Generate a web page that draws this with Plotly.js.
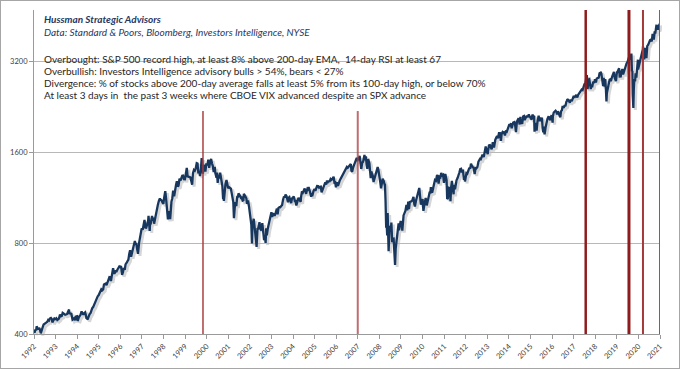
<!DOCTYPE html>
<html>
<head>
<meta charset="utf-8">
<script src="https://cdn.plot.ly/plotly-3.0.1.min.js"></script>
<style>
html,body{margin:0;padding:0;background:#fff;}
#chart{width:680px;height:369px;box-sizing:border-box;border:1px solid #a6a6a6;}
</style>
</head>
<body>
<div id="chart"></div>
<script>
// S&P 500 (weekly-ish closes and notable extremes), read/estimated from the chart
const spxDates = [
'1992-06-19','1992-06-26','1992-07-10','1992-07-24','1992-07-31','1992-08-14','1992-08-28','1992-09-11','1992-09-25','1992-10-09','1992-10-23','1992-10-30','1992-11-13','1992-11-27','1992-12-11','1992-12-31',
'1993-01-15','1993-01-29','1993-02-12','1993-02-26','1993-03-12','1993-03-31','1993-04-16','1993-04-23','1993-04-30','1993-05-14','1993-05-28','1993-06-11','1993-06-30','1993-07-16','1993-07-30','1993-08-13','1993-08-31','1993-09-17','1993-09-30','1993-10-15','1993-10-29','1993-11-12','1993-11-26','1993-12-10','1993-12-31',
'1994-01-14','1994-01-31','1994-02-04','1994-02-18','1994-02-28','1994-03-11','1994-03-31','1994-04-08','1994-04-22','1994-04-29','1994-05-13','1994-05-31','1994-06-17','1994-06-24','1994-06-30','1994-07-15','1994-07-29','1994-08-12','1994-08-31','1994-09-16','1994-09-30','1994-10-14','1994-10-31','1994-11-11','1994-11-23','1994-11-30','1994-12-09','1994-12-30',
'1995-01-13','1995-01-31','1995-02-15','1995-02-28','1995-03-15','1995-03-31','1995-04-13','1995-04-28','1995-05-15','1995-05-31','1995-06-15','1995-06-30','1995-07-14','1995-07-31','1995-08-15','1995-08-31','1995-09-14','1995-09-29','1995-10-13','1995-10-27','1995-11-15','1995-11-30','1995-12-15','1995-12-29',
'1996-01-10','1996-01-31','1996-02-15','1996-02-29','1996-03-08','1996-03-29','1996-04-15','1996-04-30','1996-05-15','1996-05-31','1996-06-14','1996-06-28','1996-07-05','1996-07-16','1996-07-31','1996-08-15','1996-08-30','1996-09-13','1996-09-30','1996-10-15','1996-10-31','1996-11-15','1996-11-29','1996-12-05','1996-12-16','1996-12-31',
'1997-01-17','1997-01-31','1997-02-18','1997-02-28','1997-03-11','1997-03-31','1997-04-11','1997-04-30','1997-05-15','1997-05-30','1997-06-13','1997-06-30','1997-07-15','1997-07-31','1997-08-15','1997-08-29','1997-09-15','1997-09-30','1997-10-07','1997-10-27','1997-10-31','1997-11-14','1997-11-28','1997-12-05','1997-12-19','1997-12-31',
'1998-01-09','1998-01-30','1998-02-13','1998-02-27','1998-03-13','1998-03-31','1998-04-17','1998-04-30','1998-05-15','1998-05-29','1998-06-15','1998-06-30','1998-07-17','1998-07-31','1998-08-14','1998-08-31','1998-09-11','1998-09-30','1998-10-08','1998-10-23','1998-10-30','1998-11-13','1998-11-27','1998-12-14','1998-12-31',
'1999-01-15','1999-01-29','1999-02-12','1999-02-26','1999-03-15','1999-03-31','1999-04-16','1999-04-30','1999-05-14','1999-05-28','1999-06-15','1999-06-30','1999-07-16','1999-07-30','1999-08-13','1999-08-31','1999-09-15','1999-09-30','1999-10-15','1999-10-29','1999-11-15','1999-11-30','1999-12-15','1999-12-31',
'2000-01-14','2000-01-28','2000-02-11','2000-02-25','2000-03-10','2000-03-24','2000-03-31','2000-04-14','2000-04-28','2000-05-12','2000-05-26','2000-06-09','2000-06-30','2000-07-14','2000-07-28','2000-08-11','2000-08-31','2000-09-15','2000-09-29','2000-10-13','2000-10-31','2000-11-10','2000-11-30','2000-12-08','2000-12-20','2000-12-29',
'2001-01-12','2001-01-31','2001-02-16','2001-02-28','2001-03-09','2001-03-22','2001-03-30','2001-04-04','2001-04-20','2001-04-30','2001-05-18','2001-05-31','2001-06-15','2001-06-29','2001-07-13','2001-07-31','2001-08-17','2001-08-31','2001-09-10','2001-09-21','2001-09-28','2001-10-12','2001-10-31','2001-11-16','2001-11-30','2001-12-07','2001-12-31',
'2002-01-18','2002-01-31','2002-02-15','2002-02-28','2002-03-08','2002-03-28','2002-04-19','2002-04-30','2002-05-17','2002-05-31','2002-06-14','2002-06-28','2002-07-12','2002-07-23','2002-07-31','2002-08-22','2002-08-30','2002-09-13','2002-09-30','2002-10-09','2002-10-25','2002-10-31','2002-11-15','2002-11-27','2002-12-13','2002-12-31',
'2003-01-14','2003-01-31','2003-02-13','2003-02-28','2003-03-11','2003-03-21','2003-03-31','2003-04-17','2003-04-30','2003-05-16','2003-05-30','2003-06-17','2003-06-30','2003-07-14','2003-07-31','2003-08-15','2003-08-29','2003-09-18','2003-09-30','2003-10-15','2003-10-31','2003-11-14','2003-11-28','2003-12-15','2003-12-31',
'2004-01-16','2004-01-30','2004-02-11','2004-02-27','2004-03-12','2004-03-24','2004-03-31','2004-04-16','2004-04-30','2004-05-17','2004-05-28','2004-06-18','2004-06-30','2004-07-16','2004-07-30','2004-08-12','2004-08-31','2004-09-17','2004-09-30','2004-10-25','2004-10-29','2004-11-15','2004-11-30','2004-12-15','2004-12-31',
'2005-01-14','2005-01-24','2005-01-31','2005-02-15','2005-02-28','2005-03-07','2005-03-31','2005-04-20','2005-04-29','2005-05-13','2005-05-31','2005-06-15','2005-06-30','2005-07-15','2005-07-29','2005-08-15','2005-08-31','2005-09-15','2005-09-30','2005-10-13','2005-10-31','2005-11-15','2005-11-30','2005-12-15','2005-12-30',
'2006-01-13','2006-01-20','2006-01-31','2006-02-15','2006-02-28','2006-03-15','2006-03-31','2006-04-21','2006-05-05','2006-05-19','2006-05-31','2006-06-13','2006-06-30','2006-07-17','2006-07-31','2006-08-15','2006-08-31','2006-09-15','2006-09-29','2006-10-13','2006-10-31','2006-11-15','2006-11-30','2006-12-15','2006-12-29',
'2007-01-12','2007-01-31','2007-02-20','2007-03-02','2007-03-14','2007-03-30','2007-04-13','2007-04-30','2007-05-15','2007-05-31','2007-06-07','2007-06-15','2007-06-29','2007-07-19','2007-07-31','2007-08-15','2007-08-31','2007-09-14','2007-09-28','2007-10-09','2007-10-19','2007-10-31','2007-11-15','2007-11-26','2007-11-30','2007-12-10','2007-12-31',
'2008-01-11','2008-01-22','2008-01-31','2008-02-15','2008-02-29','2008-03-10','2008-03-31','2008-04-15','2008-04-30','2008-05-19','2008-05-30','2008-06-13','2008-06-30','2008-07-15','2008-07-31','2008-08-11','2008-08-29','2008-09-12','2008-09-19','2008-09-29','2008-10-10','2008-10-17','2008-10-27','2008-11-04','2008-11-20','2008-11-28','2008-12-08','2008-12-31',
'2009-01-06','2009-01-20','2009-01-30','2009-02-13','2009-02-27','2009-03-09','2009-03-20','2009-03-31','2009-04-17','2009-04-30','2009-05-08','2009-05-15','2009-05-29','2009-06-12','2009-06-30','2009-07-10','2009-07-31','2009-08-14','2009-08-31','2009-09-18','2009-09-30','2009-10-02','2009-10-19','2009-10-30','2009-11-13','2009-11-30','2009-12-18','2009-12-31',
'2010-01-15','2010-01-29','2010-02-08','2010-02-26','2010-03-15','2010-03-31','2010-04-23','2010-04-30','2010-05-07','2010-05-20','2010-05-28','2010-06-18','2010-06-30','2010-07-02','2010-07-16','2010-07-30','2010-08-09','2010-08-27','2010-09-10','2010-09-30','2010-10-15','2010-10-29','2010-11-05','2010-11-16','2010-11-30','2010-12-17','2010-12-31',
'2011-01-14','2011-01-31','2011-02-18','2011-02-28','2011-03-16','2011-03-31','2011-04-15','2011-04-29','2011-05-13','2011-05-31','2011-06-15','2011-06-30','2011-07-07','2011-07-29','2011-08-08','2011-08-19','2011-08-31','2011-09-16','2011-09-30','2011-10-03','2011-10-14','2011-10-27','2011-10-31','2011-11-25','2011-11-30','2011-12-19','2011-12-30',
'2012-01-13','2012-01-31','2012-02-17','2012-02-29','2012-03-16','2012-03-30','2012-04-13','2012-04-30','2012-05-18','2012-05-31','2012-06-04','2012-06-15','2012-06-29','2012-07-13','2012-07-31','2012-08-17','2012-08-31','2012-09-14','2012-09-28','2012-10-12','2012-10-31','2012-11-15','2012-11-30','2012-12-14','2012-12-31',
'2013-01-18','2013-01-31','2013-02-15','2013-02-28','2013-03-15','2013-03-28','2013-04-18','2013-04-30','2013-05-21','2013-05-31','2013-06-24','2013-06-28','2013-07-15','2013-07-31','2013-08-15','2013-08-30','2013-09-18','2013-09-30','2013-10-08','2013-10-31','2013-11-15','2013-11-29','2013-12-13','2013-12-31',
'2014-01-15','2014-02-03','2014-02-14','2014-02-28','2014-03-14','2014-03-31','2014-04-11','2014-04-30','2014-05-15','2014-05-30','2014-06-20','2014-06-30','2014-07-24','2014-07-31','2014-08-08','2014-08-29','2014-09-18','2014-09-30','2014-10-15','2014-10-31','2014-11-14','2014-11-28','2014-12-16','2014-12-29','2014-12-31',
'2015-01-15','2015-01-30','2015-02-13','2015-02-27','2015-03-11','2015-03-31','2015-04-15','2015-04-30','2015-05-21','2015-05-29','2015-06-15','2015-06-30','2015-07-08','2015-07-20','2015-07-31','2015-08-18','2015-08-25','2015-08-31','2015-09-16','2015-09-29','2015-10-15','2015-10-30','2015-11-03','2015-11-13','2015-11-30','2015-12-14','2015-12-29','2015-12-31',
'2016-01-08','2016-01-20','2016-01-29','2016-02-11','2016-02-29','2016-03-15','2016-03-31','2016-04-20','2016-04-29','2016-05-19','2016-05-31','2016-06-08','2016-06-27','2016-06-30','2016-07-15','2016-07-29','2016-08-15','2016-08-31','2016-09-09','2016-09-22','2016-09-30','2016-10-14','2016-11-04','2016-11-15','2016-11-30','2016-12-13','2016-12-30',
'2017-01-13','2017-01-31','2017-02-15','2017-02-28','2017-03-01','2017-03-15','2017-03-31','2017-04-13','2017-04-28','2017-05-17','2017-05-31','2017-06-19','2017-06-30','2017-07-14','2017-07-31','2017-08-11','2017-08-18','2017-08-31','2017-09-15','2017-09-29','2017-10-13','2017-10-31','2017-11-15','2017-11-30','2017-12-15','2017-12-29',
'2018-01-12','2018-01-26','2018-02-08','2018-02-16','2018-02-26','2018-03-09','2018-03-23','2018-04-02','2018-04-13','2018-04-30','2018-05-14','2018-05-31','2018-06-12','2018-06-29','2018-07-13','2018-07-31','2018-08-15','2018-08-29','2018-09-20','2018-09-28','2018-10-11','2018-10-29','2018-11-07','2018-11-23','2018-11-30','2018-12-03','2018-12-14','2018-12-24','2018-12-31',
'2019-01-15','2019-01-31','2019-02-15','2019-02-28','2019-03-08','2019-03-29','2019-04-15','2019-04-30','2019-05-13','2019-05-31','2019-06-03','2019-06-20','2019-06-28','2019-07-26','2019-07-31','2019-08-05','2019-08-23','2019-08-30','2019-09-19','2019-09-30','2019-10-02','2019-10-31','2019-11-15','2019-11-29','2019-12-13','2019-12-31',
'2020-01-17','2020-01-31','2020-02-19','2020-02-28','2020-03-06','2020-03-12','2020-03-16','2020-03-23','2020-03-31','2020-04-09','2020-04-21','2020-04-30','2020-05-13','2020-05-29','2020-06-08','2020-06-11','2020-06-30','2020-07-15','2020-07-31','2020-08-14','2020-08-31','2020-09-02','2020-09-23','2020-09-30','2020-10-12','2020-10-30','2020-11-13','2020-11-30','2020-12-15','2020-12-31',
'2021-01-15','2021-01-29','2021-02-12','2021-02-26','2021-03-04','2021-03-17','2021-03-31','2021-04-16','2021-04-30','2021-05-12','2021-05-28','2021-06-11','2021-06-17'
];
const spxValues = [
410,403,414,411,424,420,414,419,414,402,414,419,422,430,433,436,
437,439,445,443,450,452,448,437,440,440,450,448,451,445,448,450,464,458,459,470,468,465,463,464,466,
474,482,469,467,467,466,446,447,448,451,444,457,458,443,444,454,458,462,475,468,463,469,472,462,449,454,446,459,
465,470,485,487,491,501,510,515,525,533,537,545,560,562,558,562,583,584,587,580,590,605,617,616,
599,636,660,640,633,645,645,654,661,669,666,671,657,628,640,662,652,680,687,701,705,737,757,745,721,741,
776,786,812,791,801,757,737,801,841,848,894,885,927,954,900,899,924,947,983,877,915,928,955,983,947,970,
927,980,1021,1049,1069,1102,1123,1112,1108,1091,1077,1134,1187,1121,1062,957,1009,1017,959,1071,1098,1125,1192,1141,1229,
1244,1280,1230,1238,1307,1286,1319,1335,1337,1302,1301,1373,1418,1329,1327,1320,1318,1283,1247,1362,1397,1389,1413,1469,
1465,1360,1387,1333,1395,1527,1499,1356,1452,1421,1378,1456,1455,1509,1419,1471,1518,1465,1437,1374,1429,1365,1315,1369,1264,1320,
1318,1366,1302,1240,1234,1117,1160,1103,1242,1249,1292,1256,1214,1224,1215,1211,1161,1134,1093,966,1041,1092,1060,1138,1139,1167,1148,
1128,1130,1104,1107,1164,1147,1125,1077,1106,1067,1007,990,921,797,912,962,916,889,815,777,897,886,910,938,890,880,
931,856,817,841,800,895,848,893,917,945,964,1011,975,1004,990,990,1008,1039,996,1046,1051,1050,1058,1068,1112,
1139,1131,1157,1145,1120,1091,1126,1134,1107,1084,1121,1135,1141,1101,1102,1064,1104,1128,1115,1095,1130,1184,1174,1203,1212,
1185,1163,1181,1210,1204,1225,1181,1138,1157,1154,1192,1207,1191,1228,1234,1233,1220,1228,1229,1177,1207,1231,1249,1270,1248,
1287,1261,1280,1280,1281,1303,1295,1311,1325,1267,1270,1223,1270,1237,1277,1285,1304,1320,1336,1362,1378,1397,1401,1427,1418,
1430,1438,1460,1387,1377,1421,1452,1482,1501,1531,1490,1533,1503,1553,1455,1406,1474,1484,1527,1565,1501,1549,1451,1407,1481,1515,1468,
1401,1310,1379,1349,1331,1273,1323,1351,1386,1426,1400,1360,1280,1214,1267,1305,1283,1252,1255,1106,899,940,848,1006,752,896,909,903,
935,805,826,827,735,677,768,798,870,873,929,882,919,946,919,879,987,1005,1021,1068,1057,1025,1097,1036,1093,1096,1102,1115,
1136,1074,1056,1104,1150,1169,1217,1187,1111,1071,1089,1117,1031,1022,1065,1102,1128,1065,1110,1141,1176,1183,1225,1178,1181,1244,1258,
1293,1286,1343,1327,1257,1326,1320,1364,1338,1345,1265,1321,1353,1292,1119,1124,1219,1216,1131,1099,1225,1285,1253,1159,1247,1205,1258,
1289,1312,1361,1366,1404,1408,1370,1398,1295,1310,1278,1342,1362,1356,1379,1418,1407,1465,1441,1428,1412,1353,1416,1413,1426,
1486,1498,1520,1515,1561,1569,1541,1598,1669,1631,1573,1606,1682,1686,1661,1633,1725,1682,1656,1757,1798,1806,1775,1848,
1848,1742,1838,1859,1841,1872,1815,1884,1871,1924,1963,1960,1988,1931,1931,2003,2011,1972,1862,2018,2040,2068,1973,2091,2059,
1993,1995,2097,2105,2040,2068,2107,2086,2131,2107,2085,2063,2047,2128,2104,2097,1868,1972,1996,1884,2023,2079,2109,2023,2080,2022,2078,2044,
1922,1859,1940,1829,1932,2015,2060,2102,2065,2040,2097,2119,2001,2099,2162,2174,2191,2171,2128,2177,2168,2133,2085,2180,2199,2271,2239,
2275,2279,2349,2364,2396,2385,2363,2329,2384,2357,2412,2453,2423,2459,2470,2441,2426,2472,2500,2519,2553,2575,2565,2648,2676,2674,
2786,2873,2581,2732,2780,2786,2588,2582,2656,2648,2730,2705,2787,2718,2801,2816,2818,2914,2931,2914,2728,2641,2814,2633,2760,2790,2600,2351,2507,
2610,2704,2776,2784,2743,2834,2905,2946,2812,2752,2744,2954,2942,3026,2980,2845,2847,2926,3006,2977,2888,3038,3120,3141,3169,3231,
3330,3226,3386,2954,2972,2481,2386,2237,2585,2790,2737,2912,2820,3044,3232,3002,3100,3227,3271,3373,3500,3580,3237,3363,3535,3270,3585,3622,3695,3756,
3768,3714,3934,3811,3768,3975,3973,4185,4181,4063,4204,4247,4222
];

// Signal dates (vertical red lines) and how high each line reaches
const signalDates = ['2000-04-15','2007-06-17','2018-01-07','2020-01-09','2020-09-02','2021-06-14'];
const signalTops  = [2186, 2186, 4719, 4719, 4719, 4719];
const signalColors = ['rgba(170,60,60,0.75)','rgba(170,60,60,0.75)','#8e1c1c','#8e1c1c','#a33a3a','#b04848'];
const signalWidths = [2, 2, 2.5, 3, 2, 1.6];

// Axis ticks
const tickYears = ['1992','1993','1994','1995','1996','1997','1998','1999','2000','2001','2002','2003','2004','2005','2006','2007','2008','2009','2010','2011','2012','2013','2014','2015','2016','2017','2018','2019','2020','2021'];
const yTickVals = [400, 800, 1600, 3200];
const yTickText = ['400', '800', '1600', '3200'];

const titleLines = ['Hussman Strategic Advisors', 'Data: Standard & Poors, Bloomberg, Investors Intelligence, NYSE'];
const noteLines = [
  'Overbought: S&P 500 record high, at least 8% above 200-day EMA,  14-day RSI at least 67',
  'Overbullish: Investors Intelligence advisory bulls > 54%, bears < 27%',
  'Divergence: % of stocks above 200-day average falls at least 5% from its 100-day high, or below 70%',
  'At least 3 days in  the past 3 weeks where CBOE VIX advanced despite an SPX advance'
];

// year labels sit at mid-June of each year on this chart's axis
const tickVals = tickYears.map(y => y + '-06-17');
const xRange = ['1992-06-17', '2021-06-17'];
const yRange = [Math.log10(400), Math.log10(4719)];

const W = 628, H = 326, DX = 2, DY = 2;
const FONT = 'Lato, "Open Sans", sans-serif';

const traces = [];
// soft drop shadow of the index line (same data on a shifted, hidden axis pair)
traces.push({x: spxDates, y: spxValues, xaxis: 'x', yaxis: 'y', type: 'scatter', mode: 'lines',
  line: {color: 'rgba(0,0,0,0.16)', width: 3}, hoverinfo: 'skip', showlegend: false});
traces.push({x: spxDates, y: spxValues, xaxis: 'x2', yaxis: 'y2', type: 'scatter', mode: 'lines',
  line: {color: '#17375e', width: 2.3}, showlegend: false});
signalDates.forEach((d, i) => {
  traces.push({x: [d, d], y: [400, signalTops[i]], xaxis: 'x2', yaxis: 'y2', type: 'scatter', mode: 'lines',
    line: {color: signalColors[i], width: signalWidths[i]}, showlegend: false, hoverinfo: 'skip'});
});

const annotations = [];
const px2x = px => (px - 34) / W;
const py2y = py => (336 - py) / H;
const titleY = [19, 32];
titleLines.forEach((t, i) => annotations.push({
  text: i === 0 ? '<b><i>' + t + '</i></b>' : '<i>' + t + '</i>',
  xref: 'paper', yref: 'paper', x: px2x(42), y: py2y(titleY[i]), xanchor: 'left', yanchor: 'middle',
  showarrow: false, font: {family: FONT, size: 10, color: '#1f3864'}
}));
const noteY = [59, 71, 83, 95];
noteLines.forEach((t, i) => annotations.push({
  text: t, xref: 'paper', yref: 'paper', x: px2x(42), y: py2y(noteY[i]), xanchor: 'left', yanchor: 'middle',
  showarrow: false, font: {family: FONT, size: 10, color: '#262626'}
}));

const layout = {
  width: 678, height: 367,
  margin: {l: 33, r: 17, t: 9, b: 32, pad: 0},
  paper_bgcolor: '#ffffff', plot_bgcolor: 'rgba(0,0,0,0)',
  showlegend: false,
  xaxis: {type: 'date', range: xRange, domain: [DX / W, 1], anchor: 'y', visible: false},
  yaxis: {type: 'log', range: yRange, domain: [0, 1 - DY / H], anchor: 'x', visible: false},
  xaxis2: {type: 'date', range: xRange, domain: [0, 1 - DX / W], anchor: 'y2',
    tickmode: 'array', tickvals: tickVals, ticktext: tickYears, tickangle: -45,
    ticks: 'outside', ticklen: 4, tickcolor: '#9a9a9a', showline: true, linecolor: '#9a9a9a', linewidth: 1,
    showgrid: false, zeroline: false, tickfont: {family: FONT, size: 7.5, color: '#404040'}},
  yaxis2: {type: 'log', range: yRange, domain: [DY / H, 1], anchor: 'x2',
    tickmode: 'array', tickvals: yTickVals, ticktext: yTickText,
    ticks: 'outside', ticklen: 4, tickcolor: '#9a9a9a', showline: true, linecolor: '#9a9a9a', linewidth: 1,
    showgrid: true, gridcolor: '#b8b8b8', gridwidth: 1, zeroline: false,
    tickfont: {family: FONT, size: 7.5, color: '#404040'}},
  annotations: annotations
};

Plotly.newPlot('chart', traces, layout, {displayModeBar: false, staticPlot: true});
</script>
</body>
</html>
